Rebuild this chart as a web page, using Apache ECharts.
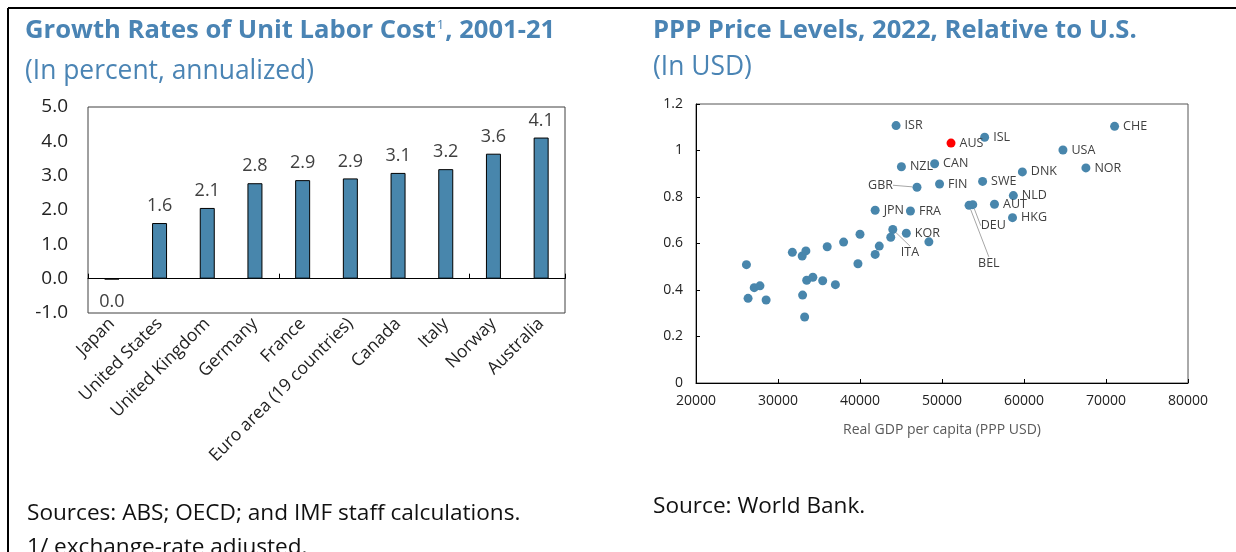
<!DOCTYPE html>
<html>
<head>
<meta charset="utf-8">
<script src="https://cdn.jsdelivr.net/npm/echarts@6/dist/echarts.min.js"></script>
<style>
html,body{margin:0;padding:0;background:#fff;}
#chart{width:1236px;height:552px;}
</style>
</head>
<body>
<div id="chart"></div>
<script>
// ---- Left chart data ----
const ulcCategories = ['Japan','United States','United Kingdom','Germany','France','Euro area (19 countries)','Canada','Italy','Norway','Australia'];
const ulcValues = [-0.02, 1.62, 2.06, 2.78, 2.87, 2.92, 3.08, 3.19, 3.64, 4.11];
const ulcYTicks = [-1, 0, 1, 2, 3, 4, 5];

// ---- Right chart data ----
const pppCodes = ['ISR','AUS','ISL','CHE','USA','NOR','DNK','NZL','CAN','GBR','FIN','SWE','NLD','AUT','HKG','BEL','DEU','JPN','FRA','KOR','ITA',
  '','','','','','','','','','','','','','','','','','','','','',''];
const pppGdp = [44400, 51100, 55200, 71050, 64750, 67550, 59800, 45050, 49100, 46950, 49700, 54950, 58700, 56400, 58600, 53300, 53750, 41850, 46150, 45650, 44000,
  43750, 48400, 26150, 26350, 27100, 27800, 28550, 31750, 32950, 33400, 33000, 33250, 33500, 34250, 35450, 36000, 37000, 38000, 39750, 40000, 41850, 42350];
const pppLevel = [1.107, 1.032, 1.057, 1.104, 1.002, 0.925, 0.908, 0.930, 0.943, 0.842, 0.856, 0.867, 0.806, 0.769, 0.711, 0.764, 0.767, 0.743, 0.740, 0.644, 0.660,
  0.627, 0.607, 0.509, 0.364, 0.410, 0.418, 0.357, 0.562, 0.546, 0.568, 0.378, 0.284, 0.442, 0.455, 0.440, 0.586, 0.423, 0.606, 0.513, 0.640, 0.553, 0.589];
const highlightCode = 'AUS';

const BLUE = '#4886ac';
const TITLE = '#4a84b4';
const FONT = '"Open Sans", "Noto Sans", sans-serif';

function fmt1(v){ let s = Number(v).toFixed(1); return s === '-0.0' ? '0.0' : s; }

// label placements (style only) for points with leader lines
const labelMoves = {
  GBR: {dx: -24, dy: -2, align: 'right'},
  ITA: {dx: 8, dy: 23, align: 'left'},
  DEU: {dx: 8, dy: 21, align: 'left'},
  BEL: {dx: 9, dy: 58, align: 'left'}
};

const scatterData = pppCodes.map((c, i) => {
  const d = {name: c, value: [pppGdp[i], pppLevel[i]]};
  if (c === highlightCode) d.itemStyle = {color: '#ff0000'};
  if (labelMoves[c]) d.labelLine = {show: true};
  return d;
});

const barData = ulcValues.map((v, i) => {
  const d = {value: v};
  if (v < 0) d.label = {position: 'bottom', distance: 13};
  return d;
});

const chart = echarts.init(document.getElementById('chart'), null, {renderer: 'canvas'});
chart.setOption({
  animation: false,
  textStyle: {fontFamily: FONT},
  title: [
    {left: 20, top: 13, text: '{t|Growth Rates of Unit Labor Cost}{s|1}{t|, 2001-21}',
      textStyle: {rich: {
        t: {fontFamily: FONT, fontSize: 25.6, fontWeight: 'bold', color: TITLE},
        s: {fontFamily: FONT, fontSize: 13, fontWeight: 'normal', color: TITLE, padding: [0,1,12,1]}
      }}},
    {left: 20, top: 53, text: '(In percent, annualized)', textStyle: {fontFamily: FONT, fontSize: 26.4, fontWeight: 'normal', color: TITLE}},
    {left: 648, top: 13, text: 'PPP Price Levels, 2022, Relative to U.S.', textStyle: {fontFamily: FONT, fontSize: 25.6, fontWeight: 'bold', color: TITLE}},
    {left: 648, top: 49, text: '(In USD)', textStyle: {fontFamily: FONT, fontSize: 26.4, fontWeight: 'normal', color: TITLE}},
    {left: 22, top: 497, text: 'Sources: ABS; OECD; and IMF staff calculations.', textStyle: {fontFamily: FONT, fontSize: 22.6, fontWeight: 'normal', color: '#111'}},
    {left: 22, top: 531, text: '1/ exchange-rate adjusted.', textStyle: {fontFamily: FONT, fontSize: 22.6, fontWeight: 'normal', color: '#111'}},
    {left: 648, top: 490, text: 'Source: World Bank.', textStyle: {fontFamily: FONT, fontSize: 22.6, fontWeight: 'normal', color: '#111'}}
  ],
  graphic: [
    {type: 'line', shape: {x1: 8, y1: 8, x2: 1236, y2: 8}, style: {stroke: '#000', lineWidth: 2}},
    {type: 'line', shape: {x1: 8, y1: 8, x2: 8, y2: 552}, style: {stroke: '#000', lineWidth: 2}}
  ],
  grid: [
    {left: 88, top: 107, width: 477, height: 206, show: true, borderColor: '#404040', borderWidth: 1, backgroundColor: 'transparent'},
    {left: 696, top: 104, width: 492, height: 279, show: true, borderColor: '#555', borderWidth: 1, backgroundColor: 'transparent'}
  ],
  xAxis: [
    {gridIndex: 0, type: 'category', data: ulcCategories, position: 'bottom',
      axisLine: {show: false, onZero: false}, axisTick: {show: false},
      axisLabel: {rotate: 45, margin: 8, fontSize: 17.5, color: '#222', fontFamily: FONT, interval: 0}},
    {gridIndex: 0, type: 'category', data: ulcCategories, position: 'bottom',
      axisLine: {show: true, onZero: true, lineStyle: {color: '#000', width: 1}},
      axisTick: {show: true, inside: true, length: 5, lineStyle: {color: '#000'}},
      axisLabel: {show: false}},
    {gridIndex: 1, type: 'value', min: 20000, max: 80000, interval: 10000,
      splitLine: {show: false},
      axisLine: {show: true, onZero: false, lineStyle: {color: '#000', width: 1}},
      axisTick: {show: true, inside: true, length: 4, lineStyle: {color: '#000'}},
      axisLabel: {fontSize: 14, color: '#222', fontFamily: FONT, margin: 11, formatter: v => String(v)},
      name: 'Real GDP per capita (PPP USD)', nameLocation: 'middle', nameGap: 40,
      nameTextStyle: {fontSize: 14, color: '#595959', fontFamily: FONT}}
  ],
  yAxis: [
    {gridIndex: 0, type: 'value', min: ulcYTicks[0], max: ulcYTicks[ulcYTicks.length-1], interval: 1,
      splitLine: {show: false}, axisLine: {show: false}, axisTick: {show: false},
      axisLabel: {fontSize: 19, color: '#222', fontFamily: FONT, margin: 20, formatter: v => fmt1(v)}},
    {gridIndex: 1, type: 'value', min: 0, max: 1.2, interval: 0.2,
      splitLine: {show: false},
      axisLine: {show: true, onZero: false, lineStyle: {color: '#000', width: 1}},
      axisTick: {show: true, inside: true, length: 4, lineStyle: {color: '#000'}},
      axisLabel: {fontSize: 14, color: '#222', fontFamily: FONT, margin: 13}}
  ],
  series: [
    {type: 'bar', xAxisIndex: 1, yAxisIndex: 0, data: barData, barWidth: 15,
      itemStyle: {color: BLUE, borderColor: '#000', borderWidth: 1},
      label: {show: true, position: 'top', distance: 8, fontSize: 18, color: '#404040', fontFamily: FONT,
        formatter: p => fmt1(p.value)}},
    {type: 'scatter', xAxisIndex: 2, yAxisIndex: 1, data: scatterData, symbolSize: 9,
      itemStyle: {color: BLUE, opacity: 1},
      label: {show: true, position: 'right', distance: 4, fontSize: 12.5, color: '#404040', fontFamily: FONT,
        formatter: p => p.name},
      labelLine: {show: false, lineStyle: {color: '#a6a6a6', width: 1}},
      labelLayout: function(params){
        const code = pppCodes[params.dataIndex];
        const m = labelMoves[code];
        if (!m) return {};
        const cx = params.rect.x + params.rect.width/2;
        const cy = params.rect.y + params.rect.height/2;
        return {x: cx + m.dx, y: cy + m.dy, align: m.align, verticalAlign: 'middle'};
      }}
  ]
});
</script>
</body>
</html>
